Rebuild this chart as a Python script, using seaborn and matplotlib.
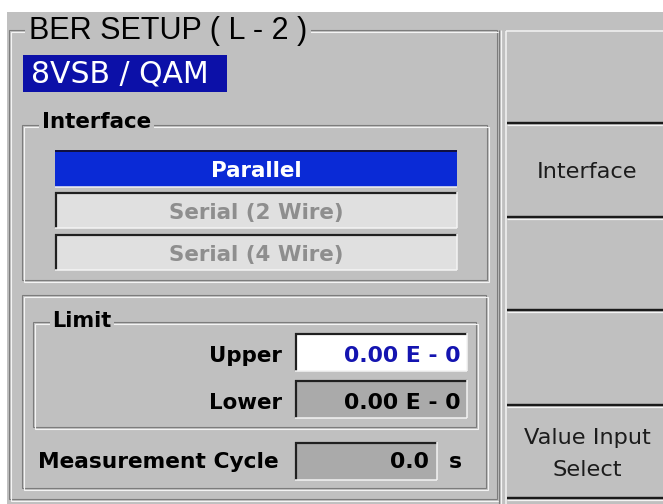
import matplotlib
matplotlib.use("Agg")
import matplotlib.pyplot as plt
import seaborn as sns
from matplotlib.patches import Rectangle

# screen texts / values
title = "BER SETUP ( L - 2 )"
mode_label = "8VSB / QAM"
interface_options = ["Parallel", "Serial (2 Wire)", "Serial (4 Wire)"]
selected_option = 0
limit_labels = ["Upper", "Lower"]
limit_values = ["0.00 E - 0", "0.00 E - 0"]
cycle_label = "Measurement Cycle"
cycle_value = "0.0"
cycle_unit = "s"
softkeys = ["", "Interface", "", "", "Value Input\nSelect"]

sns.set_theme(style="white")
plt.rcParams['font.family'] = ['DejaVu Sans']
plt.rcParams['text.color'] = 'black'

BG = "#c0c0c0"
DARK = "#7c7c7c"
LIGHT = "#f4f4f4"
PX = 0.72  # px -> pt at dpi 100
BOLD = 15.4

fig = plt.figure(figsize=(6.63, 5.04), dpi=100)
fig.patch.set_facecolor("white")
ax = fig.add_axes([0, 0, 1, 1])
ax.set_xlim(0, 663)
ax.set_ylim(504, 0)
ax.axis("off")

ax.add_patch(Rectangle((7, 12), 656, 492, facecolor=BG, edgecolor="none"))


def line(x0, y0, x1, y1, color, w=1.0):
    ax.plot([x0, x1], [y0, y1], color=color, lw=w * PX, solid_capstyle="butt")


def etched(x0, y0, x1, y1):
    for off, c in [(0, DARK), (1.5, LIGHT)]:
        ax.add_patch(Rectangle((x0 + off, y0 + off), x1 - x0, y1 - y0,
                               fill=False, edgecolor=c, lw=1.1 * PX))


def sunken(x0, y0, x1, y1, fill):
    ax.add_patch(Rectangle((x0, y0), x1 - x0, y1 - y0, facecolor=fill, edgecolor="none"))
    line(x0, y0 + 1, x1, y0 + 1, "#202020", 2.2)
    line(x0 + 1, y0, x0 + 1, y1, "#202020", 2.2)
    line(x0, y1, x1, y1, LIGHT, 1.5)
    line(x1, y0, x1, y1, LIGHT, 1.5)


def frame_label(x, y, s, size, weight="bold", family="DejaVu Sans"):
    ax.text(x, y, s, fontsize=size, fontweight=weight, color="black",
            ha="left", va="baseline", family=family,
            bbox=dict(boxstyle="square,pad=0.12", facecolor=BG, edgecolor="none"))


# main panel frame
etched(9, 30, 497, 499)
frame_label(29, 39, title, 22, weight="normal", family="Liberation Sans")

# mode box
ax.add_patch(Rectangle((23, 55), 204, 37, facecolor="#0c10a8", edgecolor="none"))
ax.text(31, 83, mode_label, fontsize=21.5, color="white", ha="left", va="baseline")

# interface group
etched(22, 125, 487, 280)
frame_label(42, 128, "Interface", BOLD)
tops = [150, 192, 234]
for i, (opt, y0) in enumerate(zip(interface_options, tops)):
    if i == selected_option:
        ax.add_patch(Rectangle((55, y0), 402, 37, facecolor="#0a2ad6", edgecolor="none"))
        line(55, y0 + 1, 457, y0 + 1, "#101040", 2)
        line(55, y0 + 37, 457, y0 + 37, LIGHT, 1.5)
        col = "white"
    else:
        sunken(55, y0, 457, y0 + 36, "#e0e0e0")
        col = "#8e8e8e"
    ax.text(256, y0 + 27, opt, fontsize=BOLD, fontweight="bold", color=col,
            ha="center", va="baseline")

# limit / cycle section
etched(22, 295, 486, 488)
etched(33, 322, 476, 427)
frame_label(52, 327, "Limit", 15)

value_fill = ["white", "#aaaaaa"]
value_color = ["#1414b0", "black"]
for i, (lab, val) in enumerate(zip(limit_labels, limit_values)):
    y0 = 333 + i * 47
    sunken(295, y0, 467, y0 + 38, value_fill[i])
    ax.text(282, y0 + 29, lab, fontsize=BOLD, fontweight="bold", color="black",
            ha="right", va="baseline")
    ax.text(460, y0 + 29, val, fontsize=15.8, fontweight="bold", color=value_color[i],
            ha="right", va="baseline")

sunken(295, 442, 437, 480, "#aaaaaa")
ax.text(38, 468, cycle_label, fontsize=15.7, fontweight="bold", color="black",
        ha="left", va="baseline")
ax.text(429, 468, cycle_value, fontsize=15.8, fontweight="bold", color="black",
        ha="right", va="baseline")
ax.text(455, 468, cycle_unit, fontsize=15.8, fontweight="bold", color="black",
        ha="center", va="baseline")

# softkey column
line(499, 30, 499, 504, DARK, 1.2)
line(501, 30, 501, 504, LIGHT, 1.2)
line(506, 31, 506, 504, LIGHT, 1.5)
line(506, 31, 663, 31, LIGHT, 1.5)
seps = [30, 123, 217, 310, 405, 498]
for k, lab in enumerate(softkeys):
    yb = seps[k + 1]
    line(507, yb, 663, yb, "#1a1a1a", 2.4)
    line(507, yb + 2, 663, yb + 2, LIGHT, 1.2)
    if lab:
        lines = lab.split("\n")
        mid = (seps[k] + yb) / 2
        start = mid - (len(lines) - 1) * 16 + 8
        for j, t in enumerate(lines):
            ax.text(587, start + j * 32, t, fontsize=16.2, color="#1c1c1c",
                    ha="center", va="baseline")

fig.savefig("out.png", dpi=100, facecolor=fig.get_facecolor())
